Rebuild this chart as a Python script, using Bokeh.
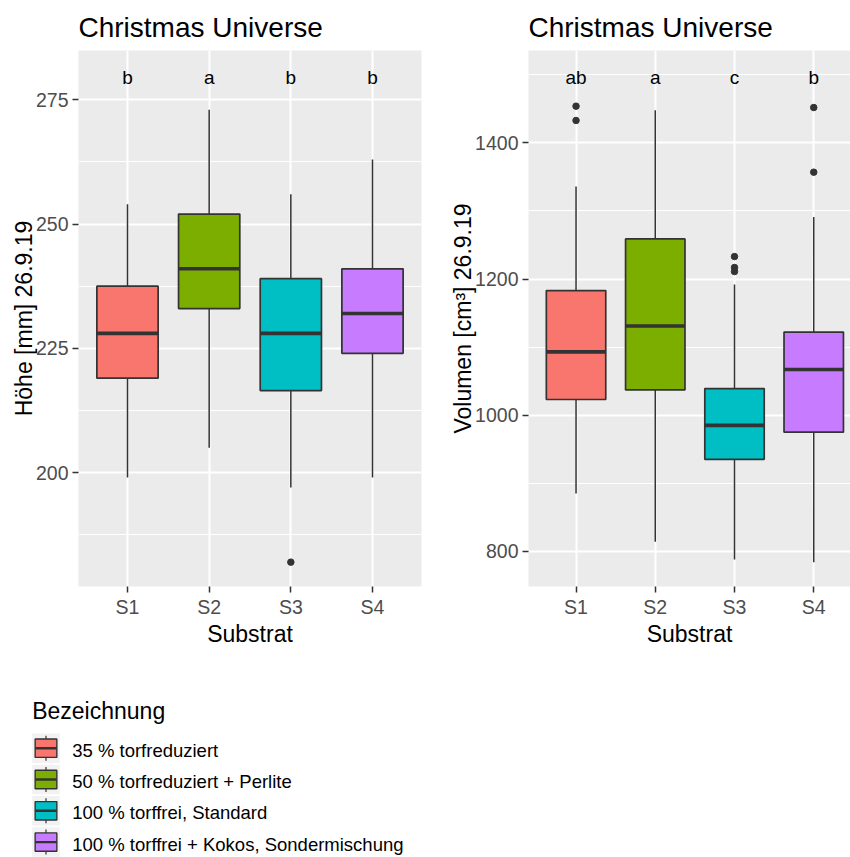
from bokeh.plotting import figure
from bokeh.layouts import column, row
from bokeh.models import FixedTicker, Range1d, ColumnDataSource
from bokeh.transform import dodge
from bokeh.core.properties import value
from bokeh.embed import file_html
from bokeh.resources import INLINE

# ---------------------------------------------------------------- data
substrate = ["S1", "S2", "S3", "S4"]
bezeichnung = [
    "35 % torfreduziert",
    "50 % torfreduziert + Perlite",
    "100 % torffrei, Standard",
    "100 % torffrei + Kokos, Sondermischung",
]
fill_colors = ["#F8766D", "#7CAE00", "#00BFC4", "#C77CFF"]

# Höhe [mm] 26.9.19 - boxplot statistics per Substrat
hoehe_whisker_low = [199, 205, 197, 199]
hoehe_q1 = [219, 233, 216.5, 224]
hoehe_median = [228, 241, 228, 232]
hoehe_q3 = [237.5, 252, 239, 241]
hoehe_whisker_high = [254, 273, 256, 263]
hoehe_outliers = [[], [], [182], []]
hoehe_letters = ["b", "a", "b", "b"]
hoehe_letter_y = 280
hoehe_ticks = [200, 225, 250, 275]

# Volumen [cm³] 26.9.19 - boxplot statistics per Substrat
volumen_whisker_low = [885, 814, 788, 784]
volumen_q1 = [1023, 1037, 935, 975]
volumen_median = [1093, 1131, 985, 1067]
volumen_q3 = [1183, 1259, 1039, 1122]
volumen_whisker_high = [1336, 1448, 1192, 1291]
volumen_outliers = [[1454, 1433], [], [1233, 1217, 1211], [1452, 1357]]
volumen_letters = ["ab", "a", "c", "b"]
volumen_letter_y = 1500
volumen_ticks = [800, 1000, 1200, 1400]

FONT = "Liberation Sans"
PANEL_BG = "#EBEBEB"
DARK = "#333333"
BOX_WIDTH = 0.75


def panel(ylabel, low, q1, med, q3, high, outliers, letters, letter_y, ticks,
          frame_left, frame_width, x_end):
    data_lo = min(low + [v for o in outliers for v in o])
    data_hi = letter_y
    pad = 0.05 * (data_hi - data_lo)
    step = ticks[1] - ticks[0]
    minor = [t - step / 2 for t in ticks] + [ticks[-1] + step / 2]

    p = figure(
        frame_width=frame_width, frame_height=536,
        x_range=Range1d(0.4, x_end),
        y_range=Range1d(data_lo - pad, data_hi + pad),
        min_border_left=frame_left, min_border_right=425 - frame_left - frame_width,
        min_border_top=50, min_border_bottom=74,
        background_fill_color=PANEL_BG, border_fill_color="white",
        outline_line_color=None, output_backend="svg", toolbar_location=None,
        title="Christmas Universe",
    )
    p.title.text_font = FONT
    p.title.text_font_size = "28px"
    p.title.text_font_style = "normal"
    p.title.text_color = "black"
    p.title.align = "left"
    p.title.standoff = 15

    xpos = list(range(1, len(substrate) + 1))
    p.xaxis.ticker = FixedTicker(ticks=xpos)
    p.xaxis.major_label_overrides = {x: s for x, s in zip(xpos, substrate)}
    p.yaxis.ticker = FixedTicker(ticks=ticks, minor_ticks=minor)
    p.xaxis.axis_label = "Substrat"
    p.yaxis.axis_label = ylabel

    for ax in (p.xaxis[0], p.yaxis[0]):
        ax.axis_line_color = None
        ax.major_tick_line_color = DARK
        ax.major_tick_line_width = 1.5
        ax.major_tick_out = 6
        ax.major_tick_in = 0
        ax.minor_tick_line_color = None
        ax.major_label_text_font = FONT
        ax.major_label_text_font_size = "19.5px"
        ax.major_label_text_color = "#4D4D4D"
        ax.axis_label_text_font = FONT
        ax.axis_label_text_font_size = "23px"
        ax.axis_label_text_font_style = "normal"
        ax.axis_label_text_color = "black"
    p.xaxis.major_label_standoff = 3
    p.yaxis.major_label_standoff = 4
    p.xaxis.axis_label_standoff = 0
    p.yaxis.axis_label_standoff = -4

    p.xgrid.grid_line_color = "white"
    p.xgrid.grid_line_width = 2
    p.ygrid.grid_line_color = "white"
    p.ygrid.grid_line_width = 2
    p.ygrid.minor_grid_line_color = "white"
    p.ygrid.minor_grid_line_width = 1

    src = ColumnDataSource(dict(x=xpos, low=low, q1=q1, med=med, q3=q3, high=high,
                                color=fill_colors, letter=letters,
                                ly=[letter_y] * len(xpos)))
    # whiskers
    p.segment(x0="x", y0="low", x1="x", y1="q1", source=src,
              line_color=DARK, line_width=1.5)
    p.segment(x0="x", y0="q3", x1="x", y1="high", source=src,
              line_color=DARK, line_width=1.5)
    # boxes
    p.vbar(x="x", width=BOX_WIDTH, bottom="q1", top="q3", source=src,
           fill_color="color", line_color=DARK, line_width=1.7)
    # medians
    p.segment(x0=dodge("x", -BOX_WIDTH / 2), x1=dodge("x", BOX_WIDTH / 2),
              y0="med", y1="med", source=src, line_color=DARK, line_width=3.6)
    # outliers
    ox = [x for x, o in zip(xpos, outliers) for _ in o]
    oy = [v for o in outliers for v in o]
    p.scatter(ox, oy, size=6.5, color=DARK)
    # group letters
    p.text(x="x", y="ly", text="letter", source=src, text_align="center",
           text_baseline="middle", y_offset=3, text_font=value(FONT),
           text_font_size="19px", text_color="black")
    return p


p1 = panel("Höhe [mm] 26.9.19", hoehe_whisker_low, hoehe_q1, hoehe_median,
           hoehe_q3, hoehe_whisker_high, hoehe_outliers, hoehe_letters,
           hoehe_letter_y, hoehe_ticks, frame_left=78, frame_width=343, x_end=4.6)
p2 = panel("Volumen [cm³] 26.9.19", volumen_whisker_low, volumen_q1, volumen_median,
           volumen_q3, volumen_whisker_high, volumen_outliers, volumen_letters,
           volumen_letter_y, volumen_ticks, frame_left=103, frame_width=322, x_end=4.464)

# ---------------------------------------------------------------- legend
lg = figure(width=850, height=197, x_range=Range1d(0, 850), y_range=Range1d(857, 660),
            x_axis_type=None, y_axis_type=None, min_border=0,
            outline_line_color=None, output_backend="svg", toolbar_location=None)
lg.text(x=[31.7], y=[710], text=["Bezeichnung"], text_font=value(FONT),
        text_font_size="23px", text_baseline="middle", text_color="black")

item_y = [747.7 + 31.3 * i for i in range(len(bezeichnung))]
key_cx = 45.5
lg.rect(x=[key_cx] * len(item_y), y=item_y, width=27.6, height=29.5,
        fill_color="#F2F2F2", line_color=None)
lg.segment(x0=[key_cx] * len(item_y), y0=[y - 12.5 for y in item_y],
           x1=[key_cx] * len(item_y), y1=[y + 12.5 for y in item_y],
           line_color=DARK, line_width=1.2)
lg.rect(x=[key_cx] * len(item_y), y=item_y, width=21.7, height=18.4,
        fill_color=fill_colors, line_color=DARK, line_width=1.4)
lg.segment(x0=[key_cx - 10.85] * len(item_y), y0=item_y,
           x1=[key_cx + 10.85] * len(item_y), y1=item_y,
           line_color=DARK, line_width=2.4)
lg.text(x=[71.7] * len(item_y), y=[y + 2 for y in item_y], text=bezeichnung,
        text_font=value(FONT), text_font_size="18.5px",
        text_baseline="middle", text_color="black")

layout = column(row(p1, p2), lg)
open("out.html", "w").write(file_html(layout, INLINE))
